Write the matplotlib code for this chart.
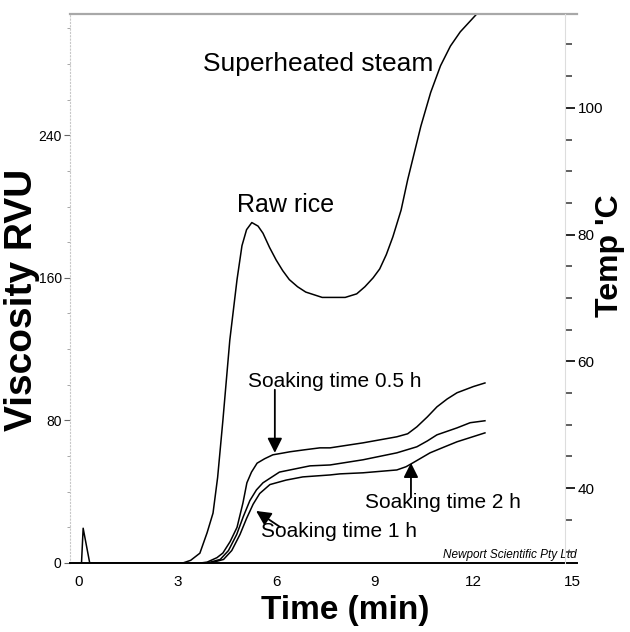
import matplotlib
matplotlib.use("Agg")
import matplotlib.pyplot as plt
from matplotlib.ticker import MultipleLocator

plt.rcParams['font.family'] = ['Liberation Sans', 'DejaVu Sans']

# ---- data ----
time_raw = [0.08, 0.13, 0.33, 3.16, 3.4, 3.68, 3.9, 4.08, 4.22, 4.38, 4.59, 4.81, 4.96, 5.1,
            5.26, 5.45, 5.6, 5.8, 6.0, 6.2, 6.4, 6.65, 6.9, 7.4, 8.1, 8.45, 8.7, 8.95, 9.15,
            9.35, 9.55, 9.8, 10.0, 10.2, 10.4, 10.7, 11.0, 11.3, 11.6, 11.9, 12.15, 12.4]
visc_raw = [0, 19.5, 0, 0, 1.5, 5.5, 17, 28, 48, 80, 125, 159, 178, 187,
            191, 189, 185, 177, 170, 164, 159, 155, 152, 149, 149, 151, 155, 160, 165,
            173, 183, 198, 215, 230, 245, 264, 279, 290, 298, 304, 309, 318]

time_05h = [3.7, 3.9, 4.2, 4.38, 4.6, 4.81, 4.99, 5.11, 5.25, 5.42, 5.65, 5.9, 6.15, 6.42,
            6.86, 7.33, 7.64, 8.64, 9.67, 10.0, 10.28, 10.6, 10.89, 11.2, 11.5, 12.0, 12.35]
visc_05h = [0, 0.5, 3, 5.6, 12, 20, 33.7, 45, 51, 56, 58.5, 60.7, 61.5, 62.4,
            63.5, 64.6, 64.6, 67.4, 70.8, 72.5, 76.4, 82, 87.6, 92, 95.5, 99, 101]

time_1h = [3.9, 4.3, 4.55, 4.8, 5.0, 5.2, 5.4, 5.6, 6.1, 7.03, 7.64, 8.64, 9.67, 10.28,
           10.6, 10.89, 11.5, 11.9, 12.35]
visc_1h = [0, 2, 7, 16, 26, 35, 41, 45, 51, 54.5, 55, 57.9, 61.8, 65.2,
           68.5, 71.9, 75.8, 78.7, 79.8]

time_2h = [4.0, 4.4, 4.65, 4.9, 5.1, 5.3, 5.5, 5.81, 6.3, 6.81, 7.64, 7.94, 8.64, 9.67,
           9.95, 10.16, 10.68, 11.1, 11.5, 12.35]
visc_2h = [0, 2, 7, 16, 25, 33, 39, 44, 46.5, 48.3, 49.4, 50, 50.6, 52.2,
           54, 56.2, 61.8, 65, 68, 73]

x_ticks = [0, 3, 6, 9, 12, 15]
y_ticks = [0, 80, 160, 240]
temp_ticks = [40, 60, 80, 100]

# ---- figure ----
fig = plt.figure(figsize=(6.3, 6.32), dpi=100)
W, H = 630, 632
ax = fig.add_axes([70 / W, 1 - 563 / H, (577 - 70) / W, (563 - 14) / H])

ax.set_xlim(-0.27, 15.15)
ax.set_ylim(0, 308)

for t, v in [(time_raw, visc_raw), (time_05h, visc_05h), (time_1h, visc_1h), (time_2h, visc_2h)]:
    ax.plot(t, v, color='black', lw=1.1, clip_on=True, solid_joinstyle='round')

# spines
ax.spines['bottom'].set_color('black')
ax.spines['bottom'].set_linewidth(1.4)
ax.spines['top'].set_color('#a8a8a8')
ax.spines['top'].set_linewidth(1.6)
ax.spines['right'].set_visible(False)
ax.spines['left'].set_color('#c8c8c8')
ax.spines['left'].set_linestyle((0, (1, 2)))

ax.set_xticks(x_ticks)
ax.set_xticklabels([str(v) for v in x_ticks], fontsize=11)
ax.tick_params(axis='x', length=0, pad=9)
ax.set_yticks(y_ticks)
ax.set_yticklabels([str(v) for v in y_ticks], fontsize=10)
ax.yaxis.set_minor_locator(MultipleLocator(20))
ax.tick_params(axis='y', which='major', length=4, color='#666666', pad=2, direction='out')
ax.tick_params(axis='y', which='minor', length=2.5, color='#999999', direction='out')

# right temperature axis
ax2 = ax.twinx()
ax2.set_ylim(28.2, 114.8)
ax2.spines['right'].set_position(('data', 14.79))
ax2.spines['right'].set_color('#dddddd')
for s in ['top', 'left', 'bottom']:
    ax2.spines[s].set_visible(False)
ax2.set_yticks(temp_ticks)
ax2.set_yticklabels([str(v) for v in temp_ticks], fontsize=11)
ax2.yaxis.set_minor_locator(MultipleLocator(5))
ax2.tick_params(axis='y', which='major', length=7, width=1.2, color='black', pad=2)
ax2.tick_params(axis='y', which='minor', length=5, width=1.2, color='#444444')

# annotations
ax.text(7.27, 280, 'Superheated steam', fontsize=19, ha='center', va='center')
ax.text(6.3, 201, 'Raw rice', fontsize=18, ha='center', va='center')
ax.text(7.79, 101.7, 'Soaking time 0.5 h', fontsize=15, ha='center', va='center')
ax.text(7.91, 17.4, 'Soaking time 1 h', fontsize=15, ha='center', va='center')
ax.text(11.07, 33.7, 'Soaking time 2 h', fontsize=15, ha='center', va='center')

arrow = dict(arrowstyle='-|>', mutation_scale=22, lw=1.3, color='black', shrinkA=0, shrinkB=0)
ax.annotate('', xy=(5.96, 61.8), xytext=(5.96, 97.2), arrowprops=arrow)
ax.annotate('', xy=(10.1, 56.2), xytext=(10.1, 37.1), arrowprops=arrow)
ax.annotate('', xy=(5.39, 29.2), xytext=(6.12, 20.2), arrowprops=arrow)

ax.text(15.15, 1.2, 'Newport Scientific Pty Ltd', fontsize=8.5, ha='right', va='bottom',
        style='italic')

# axis titles
fig.text(22 / W, 1 - 300 / H, 'Viscosity RVU', fontsize=28, fontweight='bold',
         rotation=90, ha='center', va='center')
fig.text(345 / W, 1 - 610 / H, 'Time (min)', fontsize=24, fontweight='bold',
         ha='center', va='center')
fig.text(610 / W, 1 - 256 / H, "Temp 'C", fontsize=23, fontweight='bold',
         rotation=90, ha='center', va='center')

fig.savefig('out.png', dpi=100)
